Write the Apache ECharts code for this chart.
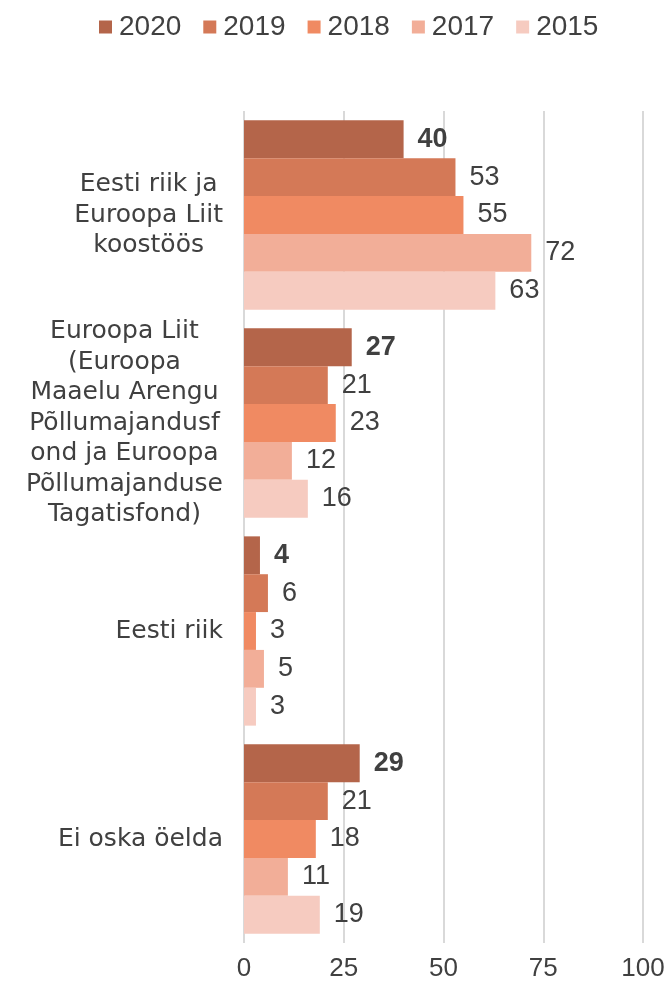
<!DOCTYPE html>
<html>
<head>
<meta charset="utf-8">
<script src="https://cdn.jsdelivr.net/npm/echarts@6/dist/echarts.min.js"></script>
<style>
  html, body { margin: 0; padding: 0; background: #fff; }
  #chart { width: 670px; height: 983px; }
</style>
</head>
<body>
<div id="chart"></div>
<script>
// categories (top to bottom)
const categories = [
  "Eesti riik ja\nEuroopa Liit\nkoostöös",
  "Euroopa Liit\n(Euroopa\nMaaelu Arengu\nPõllumajandusf\nond ja Euroopa\nPõllumajanduse\nTagatisfond)",
  "Eesti riik",
  "Ei oska öelda"
];
const years = ["2020", "2019", "2018", "2017", "2015"];
const v2020 = [40, 27, 4, 29];
const v2019 = [53, 21, 6, 21];
const v2018 = [55, 23, 3, 18];
const v2017 = [72, 12, 5, 11];
const v2015 = [63, 16, 3, 19];
const xTicks = [0, 25, 50, 75, 100];

const colors = ["#B4654A", "#D47957", "#F08A62", "#F2AE98", "#F6CBC0"];
const values = [v2020, v2019, v2018, v2017, v2015];
const txt = "#404040";
const font = "Liberation Sans, Arial, sans-serif";

const chart = echarts.init(document.getElementById("chart"));

chart.setOption({
  animation: false,
  color: colors,
  textStyle: { fontFamily: font },
  legend: {
    top: 8,
    left: 94,
    itemWidth: 13,
    itemHeight: 13,
    itemGap: 22,
    icon: "rect",
    textStyle: { fontSize: 28, color: txt, fontFamily: font, padding: [0, 0, 0, 2] },
    data: years
  },
  grid: {
    left: 244,
    right: 27,
    top: 111,
    bottom: 40
  },
  xAxis: {
    type: "value",
    min: xTicks[0],
    max: xTicks[xTicks.length - 1],
    interval: 25,
    axisLine: { show: false },
    axisTick: { show: false },
    axisLabel: { fontSize: 26, color: txt, margin: 13, fontFamily: font },
    splitLine: { lineStyle: { color: "#D9D9D9", width: 2 } }
  },
  yAxis: {
    type: "category",
    inverse: true,
    data: categories,
    axisLine: { show: false },
    axisTick: { show: false },
    axisLabel: {
      align: "right",
      margin: 21,
      color: txt,
      formatter: function (val) {
        return val.split("\n").map(s => "{c|" + s + "}").join("\n");
      },
      rich: {
        c: { align: "center", fontSize: 25, lineHeight: 30.5, color: txt, fontFamily: "DejaVu Sans, sans-serif" }
      }
    }
  },
  series: years.map((y, i) => ({
    name: y,
    type: "bar",
    data: values[i],
    barGap: "0%",
    barCategoryGap: "9%",
    itemStyle: { color: colors[i] },
    label: {
      show: true,
      position: "right",
      distance: 14,
      fontSize: 27,
      color: txt,
      fontFamily: font,
      fontWeight: i === 0 ? "bold" : "normal"
    }
  }))
});
</script>
</body>
</html>
